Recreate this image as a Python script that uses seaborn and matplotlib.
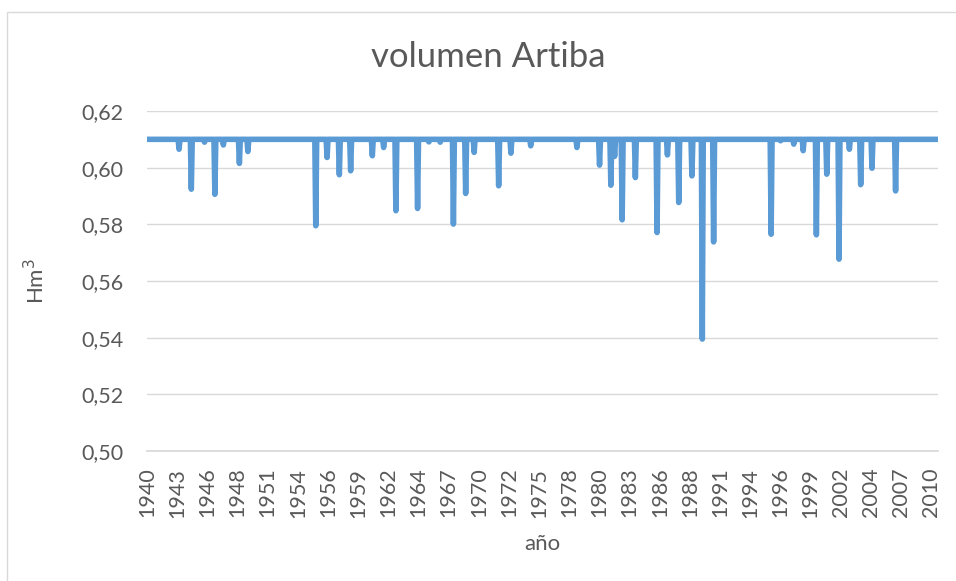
import pandas as pd
import matplotlib.pyplot as plt
import matplotlib.patches as patches
import seaborn as sns

# serie mensual (año hidrológico desde octubre 1940), volumen lleno = 0.61 Hm3
inicio = "1940-10"
n_meses = 840
volumen_lleno = 0.61

# meses en que el embalse bajó y el volumen
fechas_bajada = [
    "1943-08", "1944-09", "1945-11", "1946-10", "1947-07", "1948-12", "1949-09",
    "1955-09", "1956-09", "1957-10", "1958-10", "1960-09", "1961-09", "1962-10",
    "1964-09", "1965-09", "1966-09", "1967-11", "1968-12", "1969-09", "1971-11",
    "1972-12", "1974-09", "1978-10", "1980-10", "1981-10", "1982-02", "1982-10",
    "1983-12", "1985-11", "1986-10", "1987-10", "1988-12", "1989-11", "1990-11",
    "1995-12", "1996-10", "1997-12", "1998-10", "1999-12", "2000-11", "2001-12",
    "2002-11", "2003-11", "2004-11", "2006-12",
]
valores_bajada = [
    0.6065, 0.5924, 0.6090, 0.5906, 0.6080, 0.6015, 0.6057,
    0.5795, 0.6036, 0.5975, 0.5989, 0.6042, 0.6071, 0.5848,
    0.5856, 0.6091, 0.6090, 0.5801, 0.5909, 0.6054, 0.5936,
    0.6051, 0.6077, 0.6071, 0.6009, 0.5938, 0.6040, 0.5816,
    0.5965, 0.5771, 0.6045, 0.5877, 0.5971, 0.5395, 0.5738,
    0.5765, 0.6095, 0.6083, 0.6060, 0.5763, 0.5977, 0.5677,
    0.6065, 0.5940, 0.5998, 0.5918,
]
paso_etiquetas = 32  # Excel pone una etiqueta cada 32 meses
y_ticks = [0.50, 0.52, 0.54, 0.56, 0.58, 0.60, 0.62]

fechas = pd.date_range(inicio, periods=n_meses, freq="MS")
df = pd.DataFrame({"fecha": fechas, "volumen": volumen_lleno})
df["pos"] = range(n_meses)
bajadas = pd.Series(valores_bajada, index=pd.to_datetime(fechas_bajada))
hay_bajada = df["fecha"].isin(bajadas.index)
df.loc[hay_bajada, "volumen"] = bajadas.loc[df.loc[hay_bajada, "fecha"]].values

sns.set_theme(style="white")
plt.rcParams["font.family"] = ["Lato", "DejaVu Sans"]
gris = "#595959"

fig = plt.figure(figsize=(9.56, 5.81), dpi=100)
ax = fig.add_axes([147 / 956, 1 - 451 / 581, (938 - 147) / 956, 340 / 581])

# borde del área del gráfico
fig.patches.append(patches.Rectangle((7 / 956, -0.05), 1.0, 1 - 12 / 581 + 0.05,
                                     transform=fig.transFigure, fill=False,
                                     edgecolor="#D9D9D9", linewidth=1))

sns.lineplot(data=df, x="pos", y="volumen", ax=ax, color="#5B9BD5", linewidth=4,
             solid_joinstyle="round", solid_capstyle="round")

ax.set_ylim(0.50, 0.62)
ax.set_xlim(0, n_meses - 1)
ax.set_yticks(y_ticks)
ax.set_yticklabels([f"{v:.2f}".replace(".", ",") for v in y_ticks], color=gris, fontsize=15.5)
pos_ticks = list(range(0, n_meses, paso_etiquetas))
ax.set_xticks(pos_ticks)
ax.set_xticklabels([str(fechas[p].year) for p in pos_ticks], rotation=90, color=gris, fontsize=15.5)
ax.tick_params(axis="y", length=0, pad=17)
ax.tick_params(axis="x", length=0, pad=12)

ax.grid(axis="y", color="#D9D9D9", linewidth=1)
ax.set_axisbelow(True)
for s in ["top", "right", "left"]:
    ax.spines[s].set_visible(False)
ax.spines["bottom"].set_color("#D9D9D9")

fig.text(488 / 956, 1 - 57 / 581, "volumen Artiba", fontsize=25, color=gris,
         ha="center", va="center")
ax.set_xlabel("año", fontsize=16, color=gris, labelpad=12)
ax.set_ylabel("Hm$^3$", fontsize=16, color=gris, labelpad=24)

plt.savefig("out.png", dpi=100)
